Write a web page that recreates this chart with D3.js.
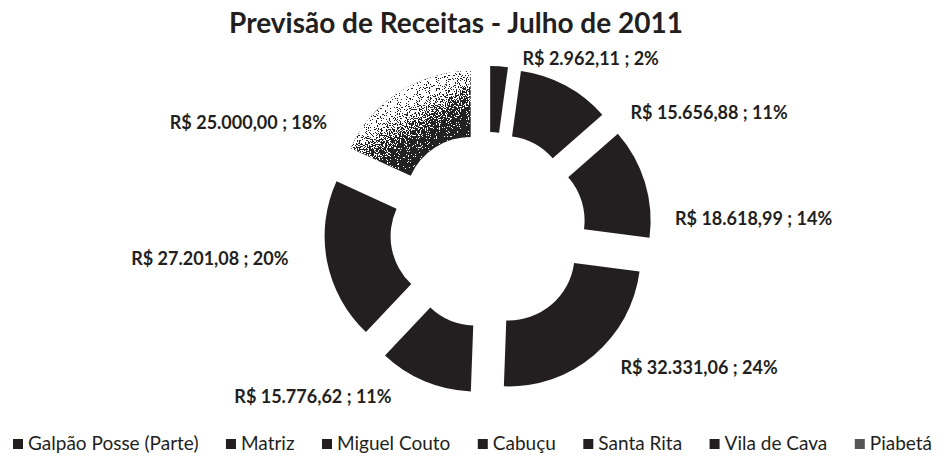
<!DOCTYPE html>
<html>
<head>
<meta charset="utf-8">
<script src="https://cdn.jsdelivr.net/npm/d3@7"></script>
<style>
  body { margin: 0; background: #fff; }
  text { font-family: Lato, "Open Sans", sans-serif; fill: #231f20; }
  .title { font-size: 28px; font-weight: bold; }
  .label { font-size: 18px; font-weight: bold; }
  .legend text { font-size: 19px; }
</style>
</head>
<body>
<div id="app"></div>
<script>
const title = "Previsão de Receitas - Julho de 2011";
const categories = ["Galpão Posse (Parte)", "Matriz", "Miguel Couto", "Cabuçu", "Santa Rita", "Vila de Cava", "Piabetá"];
const values = [2962.11, 15656.88, 18618.99, 32331.06, 15776.62, 27201.08, 25000.00];

// labels were dragged by hand in the original, nudge them from the bisector point
const labelNudge = [[22, 13], [55, 46], [10, 42], [13, -4], [-25, -4], [-18, -7], [-61, 48]];

function render() {
  const width = 952;
  const height = 462;
  const cx = 488, cy = 230;
  const outerR = 132, innerR = 66;
  const explode = 32;
  const labelR = 185;
  const dark = '#231f20';

  const br = d3.formatLocale({ decimal: ',', thousands: '.', grouping: [3], currency: ['R$ ', ''] });
  const money = br.format('$,.2f');
  const total = d3.sum(values);

  const svg = d3.select('#app').append('svg').attr('width', width).attr('height', height);

  // Piabetá: speckled gray fading into the dark
  const defs = svg.append('defs');
  const grad = defs.append('linearGradient')
    .attr('id', 'piabeta')
    .attr('x1', 0.1).attr('y1', 0.1).attr('x2', 0.6).attr('y2', 0.85);
  grad.append('stop').attr('offset', 0).attr('stop-color', '#ffffff');
  grad.append('stop').attr('offset', 0.45).attr('stop-color', '#b4b4b4');
  grad.append('stop').attr('offset', 0.8).attr('stop-color', '#444444');
  grad.append('stop').attr('offset', 1).attr('stop-color', dark);

  const filter = defs.append('filter').attr('id', 'stipple')
    .attr('x', 0).attr('y', 0).attr('width', 1).attr('height', 1)
    .attr('color-interpolation-filters', 'sRGB');
  filter.append('feTurbulence')
    .attr('type', 'fractalNoise').attr('baseFrequency', 0.9).attr('numOctaves', 1).attr('seed', 4)
    .attr('result', 'noise');
  filter.append('feColorMatrix')
    .attr('in', 'noise').attr('type', 'matrix')
    .attr('values', '1 0 0 0 0  1 0 0 0 0  1 0 0 0 0  0 0 0 0 1')
    .attr('result', 'gnoise');
  filter.append('feComposite')
    .attr('in', 'SourceGraphic').attr('in2', 'gnoise')
    .attr('operator', 'arithmetic').attr('k1', 0).attr('k2', 1).attr('k3', 2).attr('k4', -1)
    .attr('result', 'mix');
  filter.append('feColorMatrix')
    .attr('in', 'mix').attr('type', 'matrix')
    .attr('values', '1 0 0 0 0  1 0 0 0 0  1 0 0 0 0  0 0 0 1 0')
    .attr('result', 'gray');
  const ct = filter.append('feComponentTransfer').attr('in', 'gray').attr('result', 'dots');
  ['feFuncR', 'feFuncG', 'feFuncB'].forEach(f => ct.append(f).attr('type', 'discrete').attr('tableValues', '0.137 1'));
  filter.append('feComposite').attr('in', 'dots').attr('in2', 'SourceAlpha').attr('operator', 'in');

  const color = d3.scaleOrdinal(categories, categories.map((c, i) => i === categories.length - 1 ? 'url(#piabeta)' : dark));

  svg.append('text')
    .attr('class', 'title')
    .attr('x', 456)
    .attr('y', 33)
    .attr('text-anchor', 'middle')
    .text(title);

  const pie = d3.pie().sort(null).value(d => d.value).startAngle(0).endAngle(2 * Math.PI);
  const arcs = pie(categories.map((c, i) => ({ name: c, value: values[i] })));
  const arc = d3.arc().innerRadius(innerR).outerRadius(outerR);

  const g = svg.append('g').attr('transform', `translate(${cx}, ${cy})`);

  const mid = d => (d.startAngle + d.endAngle) / 2;

  g.selectAll('path.slice')
    .data(arcs)
    .enter()
    .append('path')
    .attr('class', 'slice')
    .attr('transform', d => `translate(${explode * Math.sin(mid(d))}, ${-explode * Math.cos(mid(d))})`)
    .attr('d', arc)
    .attr('fill', d => color(d.data.name))
    .attr('filter', (d, i) => i === categories.length - 1 ? 'url(#stipple)' : null);

  g.selectAll('text.label')
    .data(arcs)
    .enter()
    .append('text')
    .attr('class', 'label')
    .attr('x', (d, i) => labelR * Math.sin(mid(d)) + labelNudge[i][0])
    .attr('y', (d, i) => -labelR * Math.cos(mid(d)) + labelNudge[i][1])
    .attr('dy', '0.35em')
    .attr('text-anchor', d => mid(d) > Math.PI ? 'end' : 'start')
    .text(d => `${money(d.data.value)} ; ${Math.round(d.data.value / total * 100)}%`);

  // legend along the bottom, spread across the width
  const legend = svg.append('g').attr('class', 'legend');
  const items = legend.selectAll('g')
    .data(categories)
    .enter()
    .append('g');
  items.append('rect')
    .attr('width', 10).attr('height', 10)
    .attr('y', -11)
    .attr('fill', (d, i) => i === categories.length - 1 ? '#555' : dark);
  items.append('text')
    .attr('x', 15)
    .text(d => d);

  const widths = [];
  items.each(function () { widths.push(this.getBBox().width); });
  const left = 13, right = 932;
  const gap = (right - left - d3.sum(widths)) / (categories.length - 1);
  let x = left;
  items.attr('transform', (d, i) => {
    const t = `translate(${x}, 450)`;
    x += widths[i] + gap;
    return t;
  });
}

render();
</script>
</body>
</html>
